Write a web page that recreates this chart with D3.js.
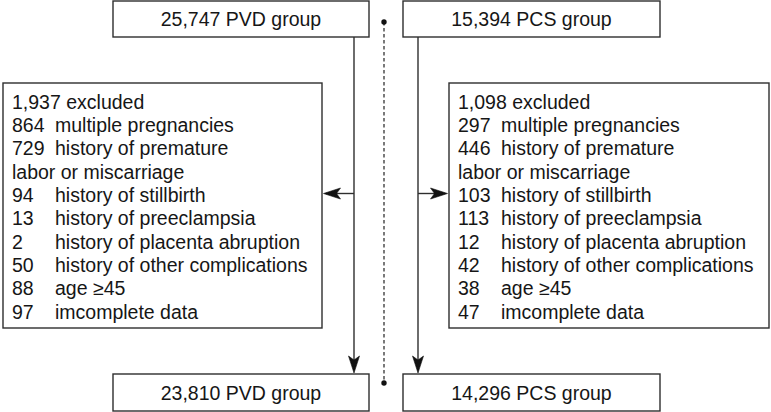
<!DOCTYPE html>
<html>
<head>
<meta charset="utf-8">
<script src="https://cdn.jsdelivr.net/npm/d3@7"></script>
<style>
  html, body { margin: 0; padding: 0; background: #fff; }
  svg { display: block; }
  text { font-family: "Liberation Sans", Arial, Helvetica, sans-serif; fill: #161616; }
</style>
</head>
<body>
<svg id="chart"></svg>
<script>
"use strict";

// data
const groups = ["PVD", "PCS"];
const enrolled = ["25,747", "15,394"];
const analysed = ["23,810", "14,296"];
const excludedTotal = ["1,937", "1,098"];
const reasons = [
  "multiple pregnancies",
  "history of premature\nlabor or miscarriage",
  "history of stillbirth",
  "history of preeclampsia",
  "history of placenta abruption",
  "history of other complications",
  "age \u226545",
  "imcomplete data"
];
const pvdExcluded = [864, 729, 94, 13, 2, 50, 88, 97];
const pcsExcluded = [297, 446, 103, 113, 12, 42, 38, 47];

const chart_width = 771, chart_height = 412;
const line_col = "#2e2e2e";
const font_size = 19.5;

const svg = d3.select("#chart").attr("width", chart_width).attr("height", chart_height);

// layout per group column
const cols = [
  { main: [113, 369], excl: [3, 322], stem: 354, counts: pvdExcluded },
  { main: [403, 660], excl: [449, 769], stem: 418, counts: pcsExcluded }
];
const top_y = [1, 37], bot_y = [374, 411], excl_y = [83, 328];
const arrow_y = 193.5, mid_x = 384;

function box(x, y) {
  svg.append("rect")
    .attr("x", x[0]).attr("y", y[0])
    .attr("width", x[1] - x[0]).attr("height", y[1] - y[0])
    .attr("fill", "#fff").attr("stroke", line_col).attr("stroke-width", 1.4);
}

// arrowhead with notch, tip at (x,y), pointing in direction angle (deg)
function arrowHead(x, y, angle) {
  svg.append("path")
    .attr("d", "M0,0 L-17,-5.5 L-13,0 L-17,5.5 Z")
    .attr("transform", "translate(" + x + "," + y + ") rotate(" + angle + ")")
    .attr("fill", "#111").attr("stroke", "#111").attr("stroke-width", 0.6)
    .attr("stroke-linejoin", "miter");
}

// dashed divider
svg.append("line")
  .attr("x1", mid_x).attr("x2", mid_x).attr("y1", 22).attr("y2", 383)
  .attr("stroke", "#222").attr("stroke-width", 1.2).attr("stroke-dasharray", "3.5,2.5");
svg.selectAll("circle.dot").data([22, 383]).enter().append("circle")
  .attr("cx", mid_x).attr("cy", d => d).attr("r", 2.7).attr("fill", "#111");

// row scale for exclusion lists
const n_rows = 1 + d3.sum(reasons, r => r.split("\n").length);
const row_y = d3.scaleLinear().domain([0, n_rows - 1]).range([101.7, 311.7]);

cols.forEach((c, i) => {
  // stems and arrows
  svg.append("line").attr("x1", c.stem).attr("x2", c.stem).attr("y1", top_y[1]).attr("y2", bot_y[0] - 4)
    .attr("stroke", line_col).attr("stroke-width", 1.4);
  arrowHead(c.stem, bot_y[0] - 1, 90);
  const edge = i === 0 ? c.excl[1] : c.excl[0];
  svg.append("line").attr("x1", c.stem).attr("x2", edge + (i === 0 ? 4 : -4)).attr("y1", arrow_y).attr("y2", arrow_y)
    .attr("stroke", line_col).attr("stroke-width", 1.4);
  arrowHead(edge + (i === 0 ? 1.5 : -1.5), arrow_y, i === 0 ? 180 : 0);

  // boxes
  box(c.main, top_y);
  box(c.main, bot_y);
  box(c.excl, excl_y);

  const cx = (c.main[0] + c.main[1]) / 2;
  svg.append("text").attr("x", cx).attr("y", (top_y[0] + top_y[1]) / 2 + 7)
    .attr("text-anchor", "middle").attr("font-size", font_size)
    .text(enrolled[i] + " " + groups[i] + " group");
  svg.append("text").attr("x", cx).attr("y", (bot_y[0] + bot_y[1]) / 2 + 7)
    .attr("text-anchor", "middle").attr("font-size", font_size)
    .text(analysed[i] + " " + groups[i] + " group");

  // exclusion list
  const x0 = c.excl[0] + 9, x1 = x0 + 43;
  const g = svg.append("g").attr("font-size", font_size);
  g.append("text").attr("x", x0).attr("y", row_y(0) + 7).text(excludedTotal[i] + " excluded");
  let r = 1;
  reasons.forEach((reason, k) => {
    const parts = reason.split("\n");
    g.append("text").attr("x", x0).attr("y", row_y(r) + 7).text(c.counts[k]);
    g.append("text").attr("x", x1).attr("y", row_y(r) + 7).text(parts[0]);
    r++;
    parts.slice(1).forEach(p => {
      g.append("text").attr("x", x0).attr("y", row_y(r) + 7).text(p);
      r++;
    });
  });
});
</script>
</body>
</html>
